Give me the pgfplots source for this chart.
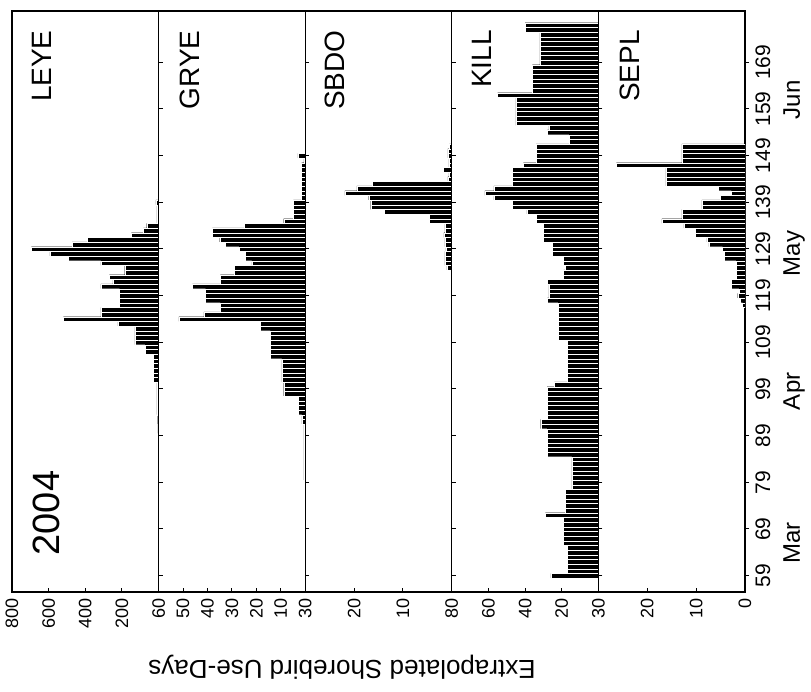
\documentclass[border=0pt]{standalone}
\usepackage{pgfplots}
\pgfplotsset{compat=1.18}
\usepackage{fontspec}
\setmainfont{Liberation Sans}
\setsansfont{Liberation Sans}

\pgfplotsset{
  strip/.style={
    scale only axis, width=73.3pt, height=290.5pt,
    xbar, bar width=1, bar shift=0pt,
    x dir=reverse, xmin=0,
    ymin=55.5, ymax=180,
    ytick={59,69,...,169}, ytick pos=right, yticklabels={},
    xtick pos=left,
    major tick length=2pt,
    tick style={black, line width=0.5pt},
    axis line style={line width=0.6pt},
    xticklabel style={rotate=90, anchor=east, font=\fontsize{9}{9}\selectfont, inner sep=3pt},
    /pgf/number format/assume math mode=true,
    anchor=south west,
  },
  bars/.style={fill=black, draw=white, line width=0.15pt},
}

\begin{document}
\begin{tikzpicture}
\useasboundingbox (0,0) rectangle (405.5pt,346pt);

% LEYE
\begin{axis}[strip, name=a1, at={(6pt,50pt)}, xmax=800, xtick={200,400,600,800}]
\addplot[bars] coordinates {(4,90)(4,91)(5,92)(5,93)(9,94)(9,95)(9,96)(9,97)(9,98)(9,99)(9,100)(28,101)(28,102)(28,103)(28,104)(28,105)(28,106)(74,107)(74,108)(130,109)(130,110)(130,111)(130,112)(222,113)(519,114)(315,115)(315,116)(213,117)(213,118)(213,119)(213,120)(315,121)(250,122)(269,123)(185,124)(185,125)(315,126)(493,127)(593,128)(694,129)(472,130)(389,131)(148,132)(83,133)(65,134)(10,135)(10,136)(10,137)(10,138)(15,139)};
\end{axis}

% GRYE
\begin{axis}[strip, name=a2, at={(79.3pt,50pt)}, xmax=60, xtick={10,20,30,40,50,60}]
\addplot[bars] coordinates {(0.5,80)(0.5,81)(0.5,82)(0.5,83)(0.5,84)(0.5,85)(0.5,86)(0.5,87)(0.5,88)(0.5,89)(0.5,90)(0.5,91)(1.4,92)(1.4,93)(2.7,94)(2.7,95)(2.7,96)(2.7,97)(8.8,98)(8.8,99)(8.8,100)(9.5,101)(9.5,102)(9.5,103)(9.5,104)(9.5,105)(14.3,106)(14.3,107)(14.3,108)(14.3,109)(14.3,110)(14.3,111)(18.4,112)(18.4,113)(51.7,114)(41.5,115)(34.7,116)(34.7,117)(40.8,118)(40.8,119)(40.8,120)(46.2,121)(34.7,122)(34.7,123)(29,124)(29,125)(21.8,126)(24.5,127)(24.5,128)(27,129)(32.6,130)(35,131)(38,132)(38,133)(25,134)(8.8,135)(4.8,136)(4.8,137)(4.8,138)(4.8,139)(1.5,140)(1.5,141)(1.5,142)(1.5,143)(1.5,144)(1.5,145)(1.5,146)(1.5,147)(0.5,148)(3,149)};
\end{axis}

% SBDO
\begin{axis}[strip, name=a3, at={(152.6pt,50pt)}, xmax=30, xtick={10,20,30}]
\addplot[bars] coordinates {(1,125)(1.4,126)(1.4,127)(1.4,128)(1.2,129)(1.4,130)(1.4,131)(1.6,132)(1.4,133)(1.4,134)(4.6,135)(4.6,136)(13.8,137)(16.6,138)(16.6,139)(17,140)(21.9,141)(19.4,142)(16.2,143)(0.8,144)(0.6,145)(1.8,146)(0.6,147)(0.6,148)(0.8,149)(0.8,150)(0.5,151)};
\end{axis}

% KILL
\begin{axis}[strip, name=a4, at={(225.9pt,50pt)}, xmax=80, xtick={20,40,60,80}]
\addplot[bars] coordinates {(26,59)(17,60)(17,61)(17,62)(17,63)(17,64)(17,65)(19,66)(19,67)(19,68)(19,69)(19,70)(19,71)(29,72)(18,73)(18,74)(18,75)(18,76)(18,77)(14.5,78)(14.5,79)(14.5,80)(14.5,81)(14.5,82)(14.5,83)(14.5,84)(28,85)(28,86)(28,87)(28,88)(28,89)(28,90)(31.5,91)(31.5,92)(28,93)(28,94)(28,95)(28,96)(28,97)(28,98)(28,99)(24,100)(17,101)(17,102)(17,103)(17,104)(17,105)(17,106)(17,107)(17,108)(17,109)(22,110)(22,111)(22,112)(22,113)(22,114)(22,115)(22,116)(22,117)(28,118)(27,119)(27,120)(27,121)(28,122)(19,123)(19,124)(18,125)(19,126)(19,127)(25,128)(25,129)(25,130)(30,131)(30,132)(30,133)(30,134)(34,135)(34,136)(39,137)(47,138)(47,139)(57,140)(62,141)(57,142)(47,143)(47,144)(47,145)(47,146)(41,147)(34,148)(34,149)(34,150)(34,151)(16,152)(16,153)(28,154)(27,155)(45,156)(45,157)(45,158)(45,159)(45,160)(45,161)(55,162)(36,163)(36,164)(36,165)(36,166)(36,167)(36,168)(32,169)(32,170)(32,171)(32,172)(32,173)(32,174)(32,175)(40,176)(40,177)};
\end{axis}

% SEPL
\begin{axis}[strip, name=a5, at={(299.2pt,50pt)}, xmax=30, xtick={0,10,20,30},
  yticklabels={59,69,79,89,99,109,119,129,139,149,159,169},
  yticklabel style={rotate=90, anchor=north, inner sep=3pt, font=\fontsize{10.5}{10.5}\selectfont}]
\addplot[bars] coordinates {(0.5,117)(1,118)(1.5,119)(1.2,120)(2.8,121)(2.8,122)(1.8,123)(1.8,124)(1.8,125)(1.8,126)(4.2,127)(4.2,128)(4.6,129)(7.4,130)(7.8,131)(10.2,132)(10.2,133)(12.5,134)(17,135)(12.9,136)(12.9,137)(8.8,138)(8.8,139)(5.1,140)(2.8,141)(5.5,142)(16.2,143)(16.2,144)(16.2,145)(16.2,146)(26.3,147)(12.9,148)(12.9,149)(12.9,150)(12.9,151)};
\coordinate (mar) at (axis cs:0,66);
\coordinate (apr) at (axis cs:0,98.5);
\coordinate (may) at (axis cs:0,128);
\coordinate (jun) at (axis cs:0,161);
\end{axis}

\foreach \m/\t in {mar/Mar, apr/Apr, may/May, jun/Jun}
  \node[rotate=90, anchor=north, inner sep=0pt, font=\fontsize{12}{12}\selectfont] at ([xshift=19pt]\m) {\t};

\node[rotate=90, anchor=east, inner sep=0pt, font=\fontsize{14}{14}\selectfont] at ([xshift=15pt,yshift=-9.5pt]a1.north west) {LEYE};
\node[rotate=90, anchor=east, inner sep=0pt, font=\fontsize{14}{14}\selectfont] at ([xshift=15.5pt,yshift=-9.5pt]a2.north west) {GRYE};
\node[rotate=90, anchor=east, inner sep=0pt, font=\fontsize{14}{14}\selectfont] at ([xshift=15pt,yshift=-9.5pt]a3.north west) {SBDO};
\node[rotate=90, anchor=east, inner sep=0pt, font=\fontsize{14}{14}\selectfont] at ([xshift=15pt,yshift=-9.5pt]a4.north west) {KILL};
\node[rotate=90, anchor=east, inner sep=0pt, font=\fontsize{14}{14}\selectfont] at ([xshift=15.5pt,yshift=-9.5pt]a5.north west) {SEPL};
\node[rotate=90, inner sep=0pt, font=\fontsize{19}{19}\selectfont] at ([xshift=17pt,yshift=39.5pt]a1.south west) {2004};

\node[rotate=180, inner sep=0pt, font=\fontsize{13}{13}\selectfont] at (171pt,12.5pt) {Extrapolated Shorebird Use-Days};
\end{tikzpicture}
\end{document}
